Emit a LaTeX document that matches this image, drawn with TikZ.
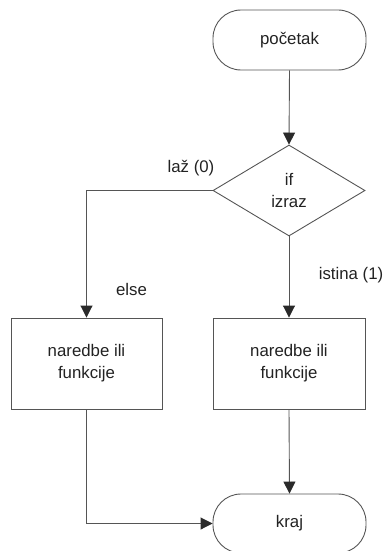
\documentclass[tikz,border=0pt]{standalone}
\usepackage{fontspec}
\setmainfont{Liberation Sans}
\usetikzlibrary{shapes.geometric,arrows.meta}
\definecolor{linegray}{HTML}{555555}
\definecolor{tipgray}{HTML}{2A2A2A}
\definecolor{txt}{HTML}{222222}
\tikzset{
  base/.style={draw=linegray, line width=0.9pt, text=txt, inner sep=0pt, align=center,
    font=\fontsize{16.8}{22}\selectfont},
  terminal/.style={base, rectangle, rounded corners=28pt},
  process/.style={base, rectangle},
  decision/.style={base, diamond},
  lbl/.style={text=txt, font=\fontsize{16.8}{22}\selectfont, inner sep=0pt},
  flow/.style={draw=linegray, line width=0.9pt,
    -{Triangle[length=12pt,width=12pt,color=tipgray]}},
  plain/.style={draw=linegray, line width=0.9pt}
}
\begin{document}
\begin{tikzpicture}[x=1pt,y=-1pt]
  \useasboundingbox (0,0) rectangle (387,551);

  % flowchart nodes
  \node[terminal, minimum width=153pt, minimum height=60pt] (start) at (289.5,40) {početak};
  \node[decision, minimum width=152pt, minimum height=91pt] (cond) at (289,190.5) {if\\izraz};
  \node[process, minimum width=151pt, minimum height=91pt] (elsebox) at (86.5,363.5) {naredbe ili\\funkcije};
  \node[process, minimum width=152pt, minimum height=91pt] (thenbox) at (289,363.5) {naredbe ili\\funkcije};
  \node[terminal, minimum width=153pt, minimum height=59pt] (stop) at (289.5,523.5) {kraj};

  % branch labels
  \node[lbl] (lfalse) at (191,168) {laž (0)};
  \node[lbl] (lelse) at (131.5,289) {else};
  \node[lbl] (ltrue) at (351,275.5) {istina (1)};

  % connectors
  \draw[flow] (start.south) -- (cond.north);
  \draw[flow] (cond.west) -| (elsebox.north);
  \draw[flow] (cond.south) -- (thenbox.north);
  \draw[flow] (thenbox.south) -- (stop.north);
  \draw[flow] (elsebox.south) |- (stop.west);
\end{tikzpicture}
\end{document}
